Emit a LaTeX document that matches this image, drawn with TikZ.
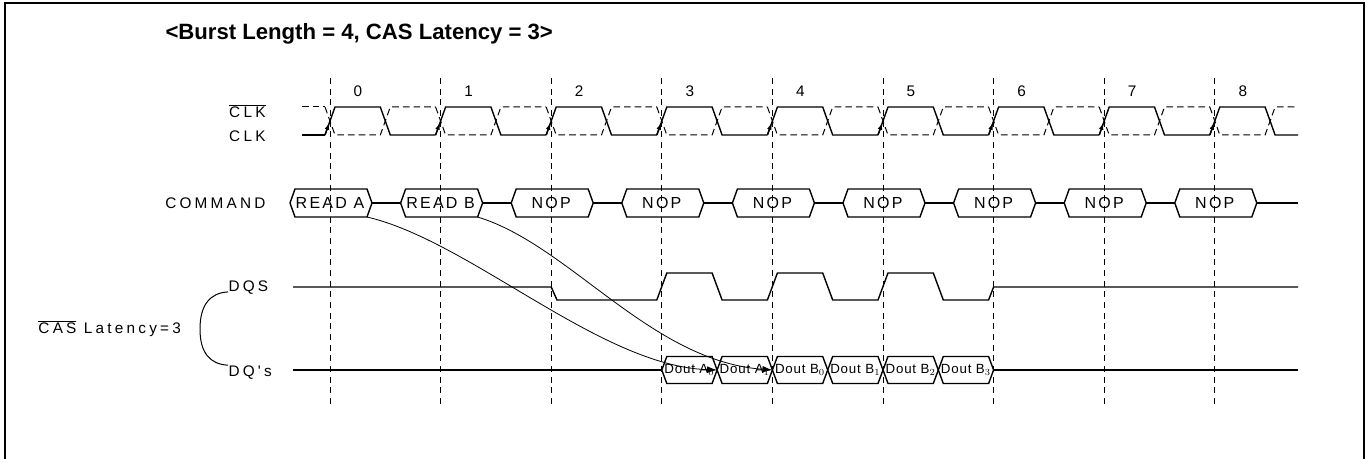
\documentclass[tikz,border=0pt]{standalone}
\usepackage{fontspec}
\setmainfont{Liberation Sans}
\newfontfamily\sigfont[LetterSpace=21]{Liberation Sans}
\newfontfamily\boxfont[LetterSpace=14]{Liberation Sans}
\newfontfamily\doutfont[LetterSpace=6]{Liberation Sans}
\usetikzlibrary{arrows.meta}

\tikzset{every picture/.style={line width=0.75pt}}
\tikzset{
  sig/.style={line width=1.05pt},
  clkb/.style={line width=0.75pt, dash pattern=on 5pt off 3pt},
  grid/.style={line width=0.6pt, dash pattern=on 4.5pt off 3.5pt},
  lbl/.style={inner sep=0pt, font=\sigfont\fontsize{11.5}{13}\selectfont},
  numlbl/.style={inner sep=0pt, font=\fontsize{11.5}{13}\selectfont},
  boxlbl/.style={inner sep=0pt, font=\boxfont\fontsize{12}{14}\selectfont},
  doutlbl/.style={inner sep=0pt, font=\doutfont\fontsize{10}{11}\selectfont},
  latarrow/.style={line width=0.6pt, -{Latex[length=7.5pt,width=5pt]}},
  edgearrow/.style={line width=1pt, -{Latex[length=5.5pt,width=3.5pt]}},
}
\newcommand\barred[1]{$\overline{\mbox{#1}}$}

\begin{document}
\begin{tikzpicture}[x=0.75pt,y=0.75pt,yscale=-1,xscale=1]
\useasboundingbox (0,0) rectangle (1372,459);

%Frame
\draw [line width=1.2pt] (5,459) -- (5,3) -- (1364,3) -- (1364,459) ;

% Text Node
\node [anchor=west, inner sep=0pt, font=\bfseries\fontsize{16.6}{19}\selectfont] (title) at (165,34) {<Burst Length = 4, CAS Latency = 3>};

%Clock edges and cycle numbers
\foreach \i in {0,...,8} {
  \pgfmathsetmacro\xc{330+110.6*\i}
  \pgfmathsetmacro\xn{\i==8 ? 1298 : \xc+105.6}
  \draw [grid] (\xc,78) -- (\xc,405) ;
  \node [numlbl] (num\i) at (\xc+28,91) {\i};
  \draw [sig] (\xc-5,135) -- (\xc+5,107) -- (\xc+50.3,107) -- (\xc+60.3,135) -- (\xn,135) ;
  \draw [clkb] (\xc-5,107) -- (\xc+5,135) -- (\xc+50.3,135) -- (\xc+60.3,107) -- (\xn,107) ;
  \draw [edgearrow] (\xc-5,135) -- (\xc-0.6,122.5) ;
}
\draw [sig] (302,135) -- (325,135) ;
\draw [clkb] (302,107) -- (325,107) ;

%Command bus
\foreach \i/\t in {0/READ A,1/READ B,2/NOP,3/NOP,4/NOP,5/NOP,6/NOP,7/NOP,8/NOP} {
  \pgfmathsetmacro\xc{330+110.6*\i}
  \pgfmathsetmacro\xe{\i==8 ? 1298 : \xc+70.6}
  \draw [sig] (\xc-40,203) -- (\xc-35,189) -- (\xc+37,189) -- (\xc+42,203) -- (\xc+37,217) -- (\xc-35,217) -- cycle ;
  \draw [sig] (\xc+42,203) -- (\xe,203) ;
  \coordinate (cse\i) at (\xc+37,217);
  \node [boxlbl] (cmd\i) at (\xc,202.5) {\t};
}

%DQS
\draw [sig] (293,287) -- (551.2,287) -- (557,300) -- (656.8,300) -- (666.8,273) -- (712.1,273) -- (722.1,300) -- (767.4,300) -- (777.4,273) -- (822.7,273) -- (832.7,300) -- (878,300) -- (888,273) -- (933.3,273) -- (943.3,300) -- (988.6,300) -- (993.6,287) -- (1298,287) ;

%DQ's
\draw [sig] (293,370) -- (661.8,370) ;
\foreach \j/\t in {0/A$_0$,1/A$_1$,2/B$_0$,3/B$_1$,4/B$_2$,5/B$_3$} {
  \pgfmathsetmacro\xb{661.8+55.3*\j}
  \draw [sig] (\xb,370) -- (\xb+5,356.5) -- (\xb+50.3,356.5) -- (\xb+55.3,370) -- (\xb+50.3,383.5) -- (\xb+5,383.5) -- cycle ;
  \coordinate (dqb\j) at (\xb,370);
  \node [doutlbl] (dout\j) at (\xb+27.6,369.5) {Dout \t};
}
\draw [sig] (993.6,370) -- (1298,370) ;

%Latency curves
\draw [latarrow] (cse0) .. controls +(103,24) and +(-117,-4) .. (dqb1) ;
\draw [latarrow] (cse1) .. controls +(92,28) and +(-122,-9) .. (dqb2) ;

% Text Node
\node [lbl, anchor=east] (clkbar) at (266,111) {\barred{CLK}};
\node [lbl, anchor=east] (clk) at (266,136) {CLK};
\node [lbl, anchor=east] (cmd) at (266,203) {COMMAND};
\node [lbl, anchor=west] (dqs) at (228,288) {DQS};
\node [lbl, anchor=west] (dq) at (228,372.5) {DQ{\char"27}s};
\node [lbl, anchor=west] (cas) at (38,328.5) {\barred{CAS} Latency=3};

%Brace
\draw (dqs.base west) .. controls +(-18,1) and +(0,-24) .. (200,329) .. controls +(0,24) and +(-18,-1) .. (dq.north west) ;

\end{tikzpicture}
\end{document}
